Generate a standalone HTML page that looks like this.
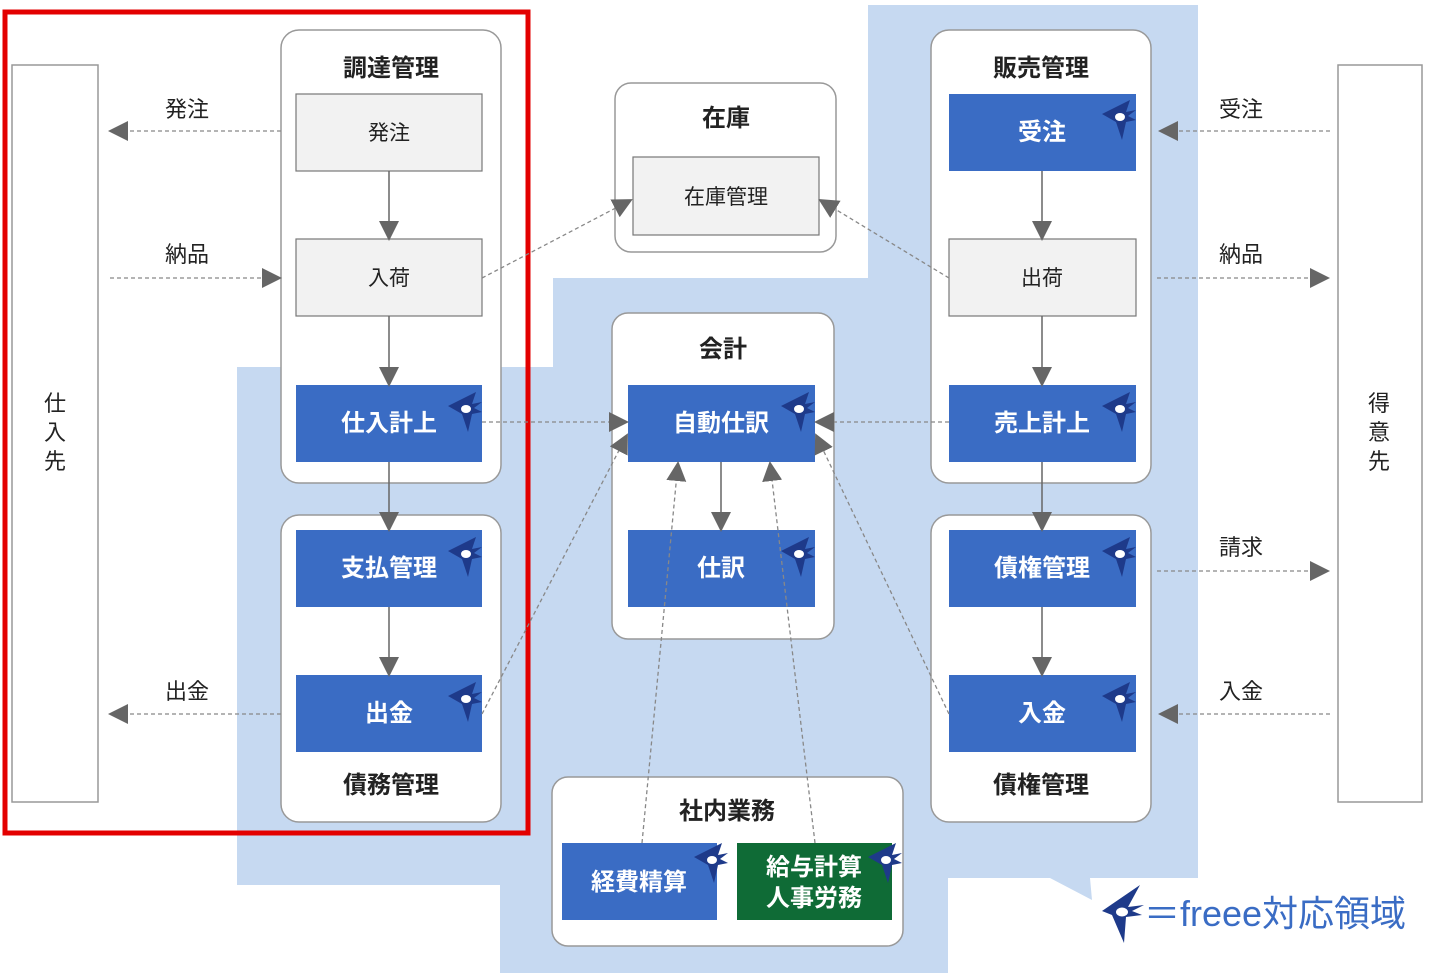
<!DOCTYPE html>
<html><head><meta charset="utf-8"><style>
html,body{margin:0;padding:0;background:#fff;}
svg{display:block;}
text{font-family:"Liberation Sans","Noto Sans CJK JP",sans-serif;}
</style></head><body>
<svg width="1440" height="973" viewBox="0 0 1440 973" xmlns="http://www.w3.org/2000/svg">
<defs>
<marker id="ab" viewBox="0 0 10 10" refX="9" refY="5" markerWidth="20" markerHeight="20" orient="auto" markerUnits="userSpaceOnUse">
<path d="M0,0 L10,5 L0,10 z" fill="#666"/></marker>
<g id="sw">
<path d="M0,0 L-28,14 L-14,22 L-8,40 L-4,22 L6,20 L-2,16 L6,10 L-4,12 z" fill="#1e3a8a"/>
<ellipse cx="-10" cy="17" rx="5" ry="4" fill="#fff"/>
</g>
</defs>
<path d="M868,5 L1198,5 L1198,878 L1090,878 L1092,900 L1050,878 L948,878 L948,973 L500,973 L500,885 L237,885 L237,367 L553,367 L553,278 L868,278 Z" fill="#c6d9f1"/>
<rect x="5" y="12" width="523" height="821" fill="none" stroke="#e30000" stroke-width="5"/>
<rect x="12" y="65" width="86" height="737" fill="#fff" stroke="#999" stroke-width="1.5"/>
<rect x="1338" y="65" width="84" height="737" fill="#fff" stroke="#999" stroke-width="1.5"/>
<g font-size="22" fill="#222" text-anchor="middle">
<text x="55" y="411">仕</text><text x="55" y="440">入</text><text x="55" y="469">先</text>
<text x="1379" y="411">得</text><text x="1379" y="440">意</text><text x="1379" y="469">先</text>
</g>
<g fill="#fff" stroke="#999" stroke-width="1.5">
<rect x="281" y="30" width="220" height="453" rx="18"/>
<rect x="281" y="515" width="220" height="307" rx="18"/>
<rect x="615" y="83" width="221" height="169" rx="16"/>
<rect x="612" y="313" width="222" height="326" rx="16"/>
<rect x="931" y="30" width="220" height="453" rx="18"/>
<rect x="931" y="515" width="220" height="307" rx="18"/>
<rect x="552" y="777" width="351" height="169" rx="16"/>
</g>
<g font-size="24" font-weight="bold" fill="#222" text-anchor="middle">
<text x="391" y="76">調達管理</text>
<text x="391" y="793">債務管理</text>
<text x="726" y="126">在庫</text>
<text x="723" y="357">会計</text>
<text x="1041" y="76">販売管理</text>
<text x="1041" y="793">債権管理</text>
<text x="727" y="819">社内業務</text>
</g>
<g fill="#f2f2f2" stroke="#777" stroke-width="1.2">
<rect x="296" y="94" width="186" height="77"/>
<rect x="296" y="239" width="186" height="77"/>
<rect x="633" y="157" width="186" height="78"/>
<rect x="949" y="239" width="187" height="77"/>
</g>
<g font-size="21" fill="#222" text-anchor="middle">
<text x="389" y="140">発注</text>
<text x="389" y="285">入荷</text>
<text x="726" y="204">在庫管理</text>
<text x="1042" y="285">出荷</text>
</g>
<g fill="#3a6cc4">
<rect x="296" y="385" width="186" height="77"/>
<rect x="296" y="530" width="186" height="77"/>
<rect x="296" y="675" width="186" height="77"/>
<rect x="628" y="385" width="187" height="77"/>
<rect x="628" y="530" width="187" height="77"/>
<rect x="949" y="94" width="187" height="77"/>
<rect x="949" y="385" width="187" height="77"/>
<rect x="949" y="530" width="187" height="77"/>
<rect x="949" y="675" width="187" height="77"/>
<rect x="562" y="843" width="155" height="77"/>
</g>
<rect x="737" y="843" width="155" height="77" fill="#0f6b36"/>
<g font-size="24" font-weight="bold" fill="#fff" text-anchor="middle">
<text x="389" y="431">仕入計上</text>
<text x="389" y="576">支払管理</text>
<text x="389" y="721">出金</text>
<text x="721" y="431">自動仕訳</text>
<text x="721" y="576">仕訳</text>
<text x="1042" y="140">受注</text>
<text x="1042" y="431">売上計上</text>
<text x="1042" y="576">債権管理</text>
<text x="1042" y="721">入金</text>
<text x="639" y="890">経費精算</text>
<text x="814" y="875">給与計算</text>
<text x="814" y="906">人事労務</text>
</g>
<g>
<use href="#sw" x="476" y="392"/><use href="#sw" x="476" y="537"/><use href="#sw" x="476" y="682"/>
<use href="#sw" x="809" y="392"/><use href="#sw" x="809" y="537"/>
<use href="#sw" x="1130" y="100"/><use href="#sw" x="1130" y="392"/><use href="#sw" x="1130" y="537"/><use href="#sw" x="1130" y="682"/>
<use href="#sw" x="722" y="843"/><use href="#sw" x="896" y="843"/>
</g>
<g stroke="#666" stroke-width="1.5" marker-end="url(#ab)">
<line x1="389" y1="171" x2="389" y2="239"/>
<line x1="389" y1="316" x2="389" y2="385"/>
<line x1="389" y1="462" x2="389" y2="530"/>
<line x1="389" y1="607" x2="389" y2="675"/>
<line x1="1042" y1="171" x2="1042" y2="239"/>
<line x1="1042" y1="316" x2="1042" y2="385"/>
<line x1="1042" y1="462" x2="1042" y2="530"/>
<line x1="1042" y1="607" x2="1042" y2="675"/>
<line x1="721" y1="462" x2="721" y2="530"/>
</g>
<g stroke="#888" stroke-width="1.3" stroke-dasharray="4,3" fill="none" marker-end="url(#ab)">
<line x1="281" y1="131" x2="110" y2="131"/>
<line x1="110" y1="278" x2="280" y2="278"/>
<line x1="281" y1="714" x2="110" y2="714"/>
<line x1="1330" y1="131" x2="1160" y2="131"/>
<line x1="1157" y1="278" x2="1328" y2="278"/>
<line x1="1157" y1="571" x2="1328" y2="571"/>
<line x1="1330" y1="714" x2="1160" y2="714"/>
<line x1="482" y1="278" x2="631" y2="200"/>
<line x1="949" y1="278" x2="820" y2="200"/>
<line x1="482" y1="422" x2="627" y2="422"/>
<line x1="949" y1="422" x2="816" y2="422"/>
<line x1="482" y1="714" x2="627" y2="435"/>
<line x1="949" y1="714" x2="816" y2="435"/>
<line x1="642" y1="843" x2="678" y2="463"/>
<line x1="815" y1="843" x2="770" y2="463"/>
</g>
<g font-size="22" fill="#222" text-anchor="middle">
<text x="187" y="117">発注</text>
<text x="187" y="262">納品</text>
<text x="187" y="699">出金</text>
<text x="1241" y="117">受注</text>
<text x="1241" y="262">納品</text>
<text x="1241" y="555">請求</text>
<text x="1241" y="699">入金</text>
</g>
<g transform="translate(1140,885)">
<path d="M0,0 L-38,26 L-28,30 L-16,58 L-14,32 L2,30 L-8,26 L4,20 L-12,22 z" fill="#1e3a8a"/>
<ellipse cx="-18" cy="27" rx="6" ry="4.5" fill="#fff"/>
</g>
<text x="1144" y="926" font-size="36" fill="#3a6cc4">＝freee対応領域</text>
</svg>
</body></html>
